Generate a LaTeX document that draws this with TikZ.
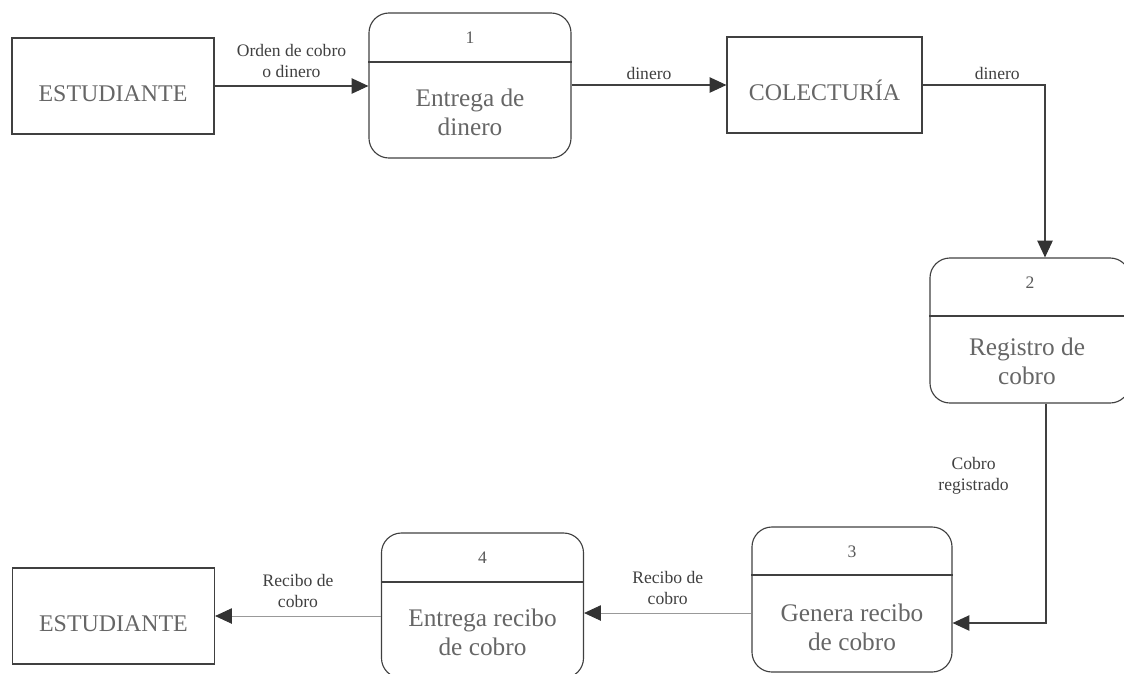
\documentclass[tikz,border=0pt]{standalone}
\usepackage{fontspec}
\setmainfont{Liberation Serif}
\usetikzlibrary{arrows.meta}
\tikzset{
    entidad/.style={draw=black!75, line width=0.8pt, minimum width=5.05cm, minimum height=2.4cm,
        text height=22pt, text=black!60, font=\fontsize{17}{20}\selectfont},
    proceso/.style={draw=black!75, line width=0.8pt, rounded corners=0.5cm, minimum width=5.05cm, minimum height=3.625cm},
    ptexto/.style={align=center, text=black!60, font=\fontsize{18}{20.5}\selectfont},
    numero/.style={text=black!65, font=\fontsize{12.5}{14}\selectfont},
    etiqueta/.style={align=center, text=black!75, font=\fontsize{12.5}{15}\selectfont},
    flujo/.style={draw=black!75, line width=0.8pt, -{Triangle[length=12pt,width=11pt,color=black!80]}},
    tenue/.style={draw=black!40, line width=0.6pt}
}
\begin{document}
\begin{tikzpicture}[x=0.025cm, y=-0.025cm]
        \useasboundingbox (0,0) rectangle (1124,673);
        \node[entidad] (E1) at (113, 86) {ESTUDIANTE};
        \node[proceso] (P1) at (470, 85.5) {};
        \node[entidad, minimum width=4.875cm] (C) at (824.5, 85) {COLECTURÍA};
        \node[proceso, minimum width=5cm] (P2) at (1030, 330.5) {};
        \node[proceso, minimum width=5cm] (P3) at (852, 599.5) {};
        \node[proceso] (P4) at (482.5, 605.5) {};
        \node[entidad] (E2) at (113.5, 616) {ESTUDIANTE};
        \draw[draw=black!75, line width=0.8pt] (P1.west |- 0,62) -- (P1.east |- 0,62);
        \draw[draw=black!75, line width=0.8pt] (P2.west |- 0,316) -- (P2.east |- 0,316);
        \draw[draw=black!75, line width=0.8pt] (P3.west |- 0,575) -- (P3.east |- 0,575);
        \draw[draw=black!75, line width=0.8pt] (P4.west |- 0,582) -- (P4.east |- 0,582);
        \node[numero] (N1) at (P1.north |- 0,38) {1};
        \node[numero] (N2) at (P2.north |- 0,283) {2};
        \node[numero] (N3) at (P3.north |- 0,552) {3};
        \node[numero] (N4) at (P4.north |- 0,558) {4};
        \node[ptexto] (T1) at (470, 112) {Entrega de\\dinero};
        \node[ptexto] (T2) at (1027, 361) {Registro de\\cobro};
        \node[ptexto] (T3) at (852, 627) {Genera recibo\\de cobro};
        \node[ptexto] (T4) at (482.5, 632) {Entrega recibo\\de cobro};
        \coordinate (Q1) at (1045, 85);
        \coordinate (Q2) at (1046, 623);
        \draw[flujo] (E1.east) -- node[etiqueta, above, yshift=2pt] {Orden de cobro\\o dinero} (P1.west |- E1.east);
        \draw[flujo] (P1.east |- C.west) -- node[etiqueta, above] {dinero} (C.west);
        \draw[flujo] (C.east) -- node[etiqueta, above, pos=0.61] {dinero} (Q1) -- (Q1 |- P2.north);
        \draw[flujo] (Q2 |- P2.south) -- node[etiqueta, left=0.8cm, pos=0.33] {Cobro\\registrado} (Q2) -- (Q2 -| P3.east);
        \draw[flujo, tenue] (P3.west |- 0,613) -- node[etiqueta, above, yshift=2pt] {Recibo de\\cobro} (P4.east |- 0,613);
        \draw[flujo, tenue] (P4.west |- E2.east) -- node[etiqueta, above, yshift=2pt] {Recibo de\\cobro} (E2.east);
    \end{tikzpicture}
\end{document}
